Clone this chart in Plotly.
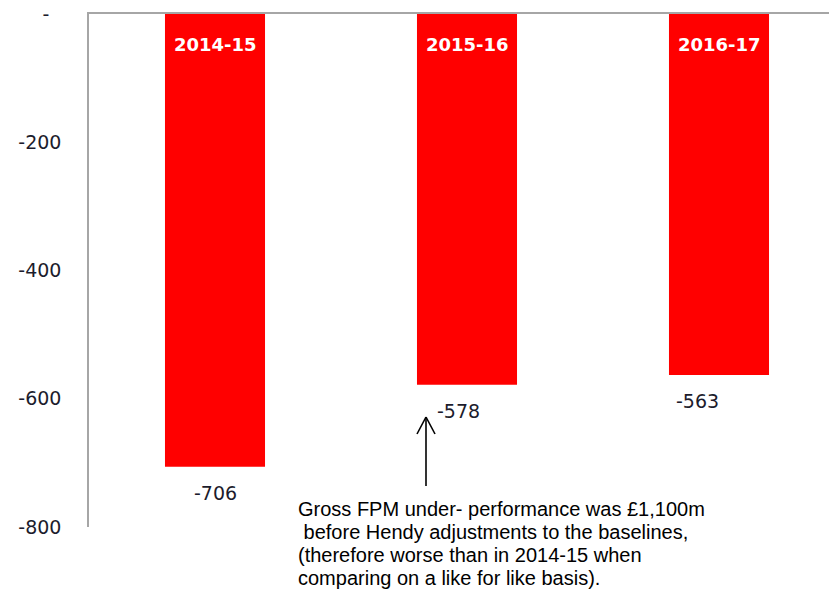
import plotly.graph_objects as go

# Financial performance by year (£m)
years = ["2014-15", "2015-16", "2016-17"]
values = [-706, -578, -563]
tick_values = [0, -200, -400, -600, -800]
tick_labels = ["-&nbsp;&nbsp;", "-200", "-400", "-600", "-800"]
note_lines = [
    "Gross FPM under- performance was £1,100m",
    "&nbsp;before Hendy adjustments to the baselines,",
    "(therefore worse than in 2014-15 when",
    "comparing on a like for like basis).",
]

# layout geometry (pixels)
W, H = 829, 591
L, R, T, B = 89, 829, 14, 527
label_xshift = [0, -9, -22]


def px(xp):
    return (xp - L) / (R - L)


def py(yp):
    return (B - yp) / (B - T)


red = "#ff0000"
axis_grey = "#a6a6a6"
label_font = dict(family="DejaVu Sans, Verdana, sans-serif", size=19, color="#1c1c2c")

fig = go.Figure(
    go.Bar(
        x=years,
        y=values,
        marker=dict(color=red, line=dict(width=0)),
        width=0.397,
        hoverinfo="skip",
    )
)

annotations = []
for yr, v, dx in zip(years, values, label_xshift):
    annotations.append(dict(
        x=yr, y=0, xref="x", yref="y", text="<b>" + yr + "</b>",
        showarrow=False, yshift=-30, yanchor="middle",
        font=dict(family="DejaVu Sans, Verdana, sans-serif", size=18, color="white"),
    ))
    annotations.append(dict(
        x=yr, y=v, xref="x", yref="y", text=str(v),
        showarrow=False, yshift=-26, xshift=dx, yanchor="middle",
        font=label_font,
    ))

# explanatory note, one line per annotation for tight line spacing
for i, line in enumerate(note_lines):
    annotations.append(dict(
        x=px(296), y=py(509 + 23 * i), xref="paper", yref="paper", text=line,
        showarrow=False, xanchor="left", yanchor="middle", align="left",
        font=dict(family="Liberation Sans, Arial, sans-serif", size=20, color="black"),
    ))

# arrow pointing up toward the 2015-16 label
ax, tip_y, tail_y = 426, 417, 486
shapes = [
    dict(type="line", xref="paper", yref="paper",
         x0=px(ax), y0=py(tail_y), x1=px(ax), y1=py(tip_y),
         line=dict(color="black", width=1.6)),
    dict(type="line", xref="paper", yref="paper",
         x0=px(ax - 9), y0=py(tip_y + 17), x1=px(ax), y1=py(tip_y),
         line=dict(color="black", width=1.6)),
    dict(type="line", xref="paper", yref="paper",
         x0=px(ax + 9), y0=py(tip_y + 17), x1=px(ax), y1=py(tip_y),
         line=dict(color="black", width=1.6)),
]

fig.update_layout(
    width=W, height=H,
    margin=dict(l=L, r=W - R, t=T, b=H - B),
    paper_bgcolor="white", plot_bgcolor="white",
    showlegend=False,
    annotations=annotations,
    shapes=shapes,
    xaxis=dict(
        range=[-0.5, -0.5 + (R - L) / 252],
        side="top", showline=True, linecolor=axis_grey, linewidth=1.5,
        showticklabels=False, showgrid=False, zeroline=False, ticks="",
        fixedrange=True,
    ),
    yaxis=dict(
        range=[-800, 0], tickvals=tick_values, ticktext=tick_labels,
        showline=True, linecolor=axis_grey, linewidth=1.5,
        showgrid=False, zeroline=False, ticks="",
        ticklabelstandoff=22,
        tickfont=label_font,
        fixedrange=True,
    ),
)

fig.write_html("out.html")
